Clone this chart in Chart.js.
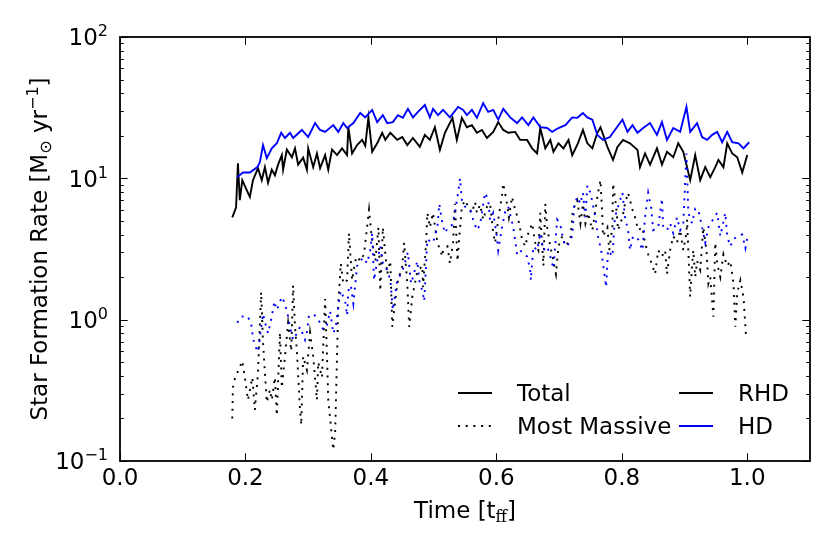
<!DOCTYPE html>
<html>
<head>
<meta charset="utf-8">
<script src="https://cdn.jsdelivr.net/npm/chart.js@4.4.1/dist/chart.umd.min.js"></script>
<style>
  html, body { margin: 0; padding: 0; background: #fff; }
  #wrap { width: 830px; height: 554px; }
</style>
</head>
<body>
<div id="wrap"><canvas id="sfrChart" width="830" height="554"></canvas></div>
<script>
// ===== Data =====
const xTicks = [0.0, 0.2, 0.4, 0.6, 0.8, 1.0];
const xTickLabels = ['0.0', '0.2', '0.4', '0.6', '0.8', '1.0'];
const yTicks = [0.1, 1, 10, 100];
const yTickExps = ['\u22121', '0', '1', '2'];

// RHD, total star formation rate
const rhdTotalT = [0.179,0.185,0.188,0.191,0.195,0.204,0.207,0.212,0.220,0.226,
  0.231,0.236,0.242,0.247,0.252,0.258,0.260,0.266,0.274,0.279,
  0.284,0.292,0.298,0.300,0.308,0.314,0.319,0.327,0.332,0.338,
  0.346,0.354,0.362,0.364,0.370,0.378,0.386,0.391,0.396,0.402,
  0.410,0.418,0.423,0.431,0.442,0.450,0.458,0.467,0.478,0.486,
  0.494,0.502,0.510,0.518,0.530,0.537,0.545,0.553,0.561,0.569,
  0.577,0.585,0.595,0.603,0.611,0.619,0.630,0.638,0.649,0.657,
  0.665,0.670,0.678,0.686,0.691,0.699,0.707,0.715,0.721,0.730,
  0.738,0.745,0.753,0.761,0.766,0.777,0.786,0.793,0.802,0.813,
  0.825,0.829,0.837,0.845,0.856,0.864,0.872,0.882,0.890,0.898,
  0.909,0.917,0.925,0.933,0.941,0.949,0.954,0.962,0.968,0.976,
  0.984,0.992,1.000];
const rhdTotal = [5.3,6.2,12.8,7.0,9.7,7.9,7.4,9.7,11.8,9.7,
  12,9.3,11.5,10.5,12.5,14.6,11.5,16,14.1,16.3,
  12.5,14,11.5,16.3,12,15,11.8,14.6,11.5,16,
  14.6,16.3,14.6,23,15,17.2,18.7,17,27,15.4,
  17.7,21,18.7,21,18.7,19.6,17.2,19.3,16.7,20.3,
  18.7,23,15.9,21,26.8,18.7,26.8,23,23.8,21,
  22,19.3,21.3,25,22,21,21.3,18.7,18.7,16.3,
  15,22.7,16.3,18.7,15.4,17.7,16.3,18.7,14.6,17.7,
  22,17.7,16.3,21,23,16.7,13.5,16.7,18.7,17.7,
  15.9,12,15,12.5,16.3,12.5,15.4,14.1,17.7,15.4,
  9.7,14.6,9.7,12,10.2,12,13.5,12,17.7,15,
  14.1,11,14.6];

// HD, total star formation rate
const hdTotalT = [0.187,0.196,0.207,0.219,0.223,0.228,0.234,0.242,0.250,0.257,
  0.263,0.271,0.276,0.290,0.300,0.311,0.319,0.327,0.340,0.348,
  0.356,0.362,0.372,0.383,0.391,0.402,0.410,0.419,0.426,0.435,
  0.443,0.451,0.459,0.467,0.475,0.486,0.494,0.499,0.507,0.515,
  0.526,0.539,0.547,0.553,0.561,0.569,0.579,0.587,0.595,0.603,
  0.611,0.622,0.633,0.641,0.651,0.659,0.670,0.681,0.689,0.699,
  0.710,0.721,0.729,0.738,0.745,0.753,0.761,0.770,0.781,0.789,
  0.801,0.809,0.817,0.825,0.834,0.845,0.856,0.864,0.872,0.882,
  0.893,0.903,0.909,0.920,0.928,0.936,0.944,0.952,0.960,0.968,
  0.976,0.986,0.994,1.003];
const hdTotal = [10.2,11,11,12,13,17.2,13.9,16.3,17.7,21,
  19.3,21,19.3,22,19.6,24.6,22,21.3,23.8,21.3,
  24.6,22.7,24.6,29,27,30.5,25,28,24.6,25,
  28,26.8,31,27,29.5,33,27,31,28,30.5,
  27,32,30.5,28,30.5,26.8,34,29.5,30.5,26,
  31,27,24.6,27,23.8,27,23,22.7,21.3,22.7,
  23.8,27,26.8,29,27,26,20.3,18.7,19.6,22,
  26,21.3,23.8,21,22.7,24.6,20.3,25,18.7,22.7,
  21.3,32,21.3,24.6,19.6,18.7,20.3,21.3,18,21.3,
  18,17.7,16.3,18];

// RHD, most massive cluster
const rhdMassT = [0.179,0.180,0.183,0.187,0.195,0.199,0.204,0.211,0.215,0.220,
  0.225,0.228,0.234,0.239,0.242,0.247,0.250,0.255,0.258,0.263,
  0.268,0.273,0.276,0.279,0.282,0.287,0.289,0.292,0.298,0.303,
  0.308,0.314,0.316,0.322,0.327,0.330,0.332,0.335,0.340,0.343,
  0.346,0.348,0.352,0.356,0.362,0.365,0.370,0.375,0.378,0.383,
  0.389,0.397,0.402,0.407,0.412,0.415,0.419,0.426,0.431,0.434,
  0.442,0.450,0.453,0.458,0.461,0.466,0.474,0.482,0.483,0.488,
  0.490,0.494,0.499,0.506,0.514,0.515,0.522,0.526,0.531,0.534,
  0.538,0.541,0.545,0.550,0.555,0.561,0.566,0.569,0.574,0.579,
  0.585,0.590,0.595,0.598,0.603,0.609,0.611,0.617,0.620,0.625,
  0.630,0.635,0.641,0.646,0.651,0.657,0.662,0.667,0.670,0.675,
  0.678,0.681,0.686,0.691,0.695,0.699,0.705,0.710,0.718,0.722,
  0.729,0.734,0.738,0.742,0.746,0.753,0.758,0.762,0.766,0.769,
  0.770,0.777,0.780,0.785,0.786,0.791,0.794,0.801,0.805,0.810,
  0.817,0.821,0.826,0.833,0.837,0.842,0.849,0.853,0.858,0.864,
  0.869,0.872,0.877,0.882,0.888,0.893,0.898,0.903,0.904,0.909,
  0.912,0.914,0.917,0.920,0.925,0.930,0.935,0.938,0.941,0.946,
  0.949,0.952,0.957,0.962,0.968,0.973,0.978,0.981,0.984,0.989,
  0.994,0.998];
const rhdMass = [0.20,0.33,0.38,0.42,0.51,0.39,0.27,0.39,0.23,0.42,
  1.57,0.69,0.26,0.32,0.27,0.39,0.21,0.81,0.33,0.55,
  0.95,0.60,1.75,0.89,0.60,0.23,0.18,0.55,0.44,0.81,
  0.55,0.27,0.50,0.39,1.40,0.55,0.27,0.20,0.12,0.16,
  0.55,1.30,2.5,1.8,1.9,4.1,1.9,2.6,2.8,2.6,
  2.9,6.0,3.55,2.6,4.5,1.6,4.5,2.1,2.6,0.89,
  1.8,2.4,3.5,1.8,0.89,1.45,2.2,2.4,1.7,3.5,
  5.7,4.5,5.7,3.5,2.8,3.1,3.3,2.5,3.5,6.6,
  2.6,3.9,6.3,7.0,6.3,5.7,6.8,5.7,6.5,5.1,
  6.3,6.6,4.1,3.5,5.1,7.6,9.2,6.6,5.3,7.4,
  6.0,5.1,3.7,3.3,4.1,4.8,3.5,3.1,5.7,2.4,
  6.6,4.5,3.3,2.6,2.1,3.3,3.9,3.3,3.7,6.0,
  7.0,4.8,6.6,4.8,5.7,4.3,6.0,7.9,9.7,5.3,
  3.9,4.5,3.1,4.5,9.2,6.3,4.3,5.3,6.6,7.9,
  6.0,5.3,4.3,4.5,3.5,2.9,2.4,2.1,3.1,2.8,
  3.1,2.1,3.1,3.9,3.5,4.3,3.1,4.1,5.1,1.45,
  2.4,3.1,2.0,2.6,2.25,4.5,3.1,1.8,2.0,1.05,
  3.5,2.5,2.0,2.9,2.4,2.6,1.8,0.89,1.55,1.9,
  1.45,0.76];

// HD, most massive cluster
const hdMassT = [0.187,0.193,0.203,0.209,0.212,0.215,0.220,0.226,0.228,0.233,
  0.236,0.242,0.246,0.250,0.258,0.263,0.268,0.271,0.276,0.282,
  0.287,0.295,0.298,0.301,0.308,0.314,0.319,0.324,0.330,0.335,
  0.340,0.344,0.348,0.352,0.356,0.359,0.362,0.364,0.368,0.372,
  0.378,0.383,0.388,0.394,0.399,0.402,0.405,0.410,0.415,0.419,
  0.426,0.431,0.435,0.442,0.450,0.455,0.459,0.464,0.467,0.474,
  0.477,0.482,0.485,0.490,0.494,0.499,0.506,0.509,0.514,0.518,
  0.523,0.530,0.534,0.539,0.542,0.545,0.550,0.558,0.563,0.569,
  0.574,0.582,0.587,0.590,0.595,0.600,0.603,0.609,0.614,0.619,
  0.624,0.627,0.633,0.638,0.643,0.649,0.654,0.655,0.659,0.665,
  0.670,0.675,0.681,0.686,0.691,0.697,0.702,0.707,0.713,0.721,
  0.724,0.729,0.734,0.738,0.742,0.745,0.750,0.758,0.762,0.767,
  0.770,0.775,0.778,0.785,0.789,0.794,0.801,0.805,0.810,0.813,
  0.818,0.826,0.833,0.837,0.842,0.847,0.850,0.858,0.864,0.866,
  0.872,0.877,0.882,0.888,0.893,0.898,0.903,0.906,0.912,0.917,
  0.922,0.928,0.933,0.938,0.944,0.952,0.957,0.965,0.968,0.973,
  0.978,0.984,0.992,0.997,1.000];
const hdMass = [0.95,1.05,1.06,0.95,0.74,0.66,0.59,0.95,1.1,0.89,
  0.80,1.05,1.35,1.17,1.45,1.3,1.05,0.89,0.72,0.80,
  0.89,0.72,0.82,1.05,1.1,1.03,0.95,0.85,0.92,1.15,
  0.80,0.89,1.25,1.6,1.45,1.35,1.07,1.6,1.75,1.3,
  2.4,2.6,2.75,2.5,3.1,4.1,1.9,2.6,3.3,2.5,
  2.25,1.9,1.17,1.9,2.2,2.6,3.0,1.8,2.0,2.6,
  1.9,1.6,1.35,3.7,3.6,3.5,4.5,6.6,4.8,4.1,
  4.5,4.7,5.7,7.9,10,7.0,6.3,6.0,5.1,4.3,
  4.7,7.9,7.0,5.1,5.7,4.1,3.1,4.5,5.8,6.3,
  5.1,4.5,2.9,3.1,2.9,2.8,2.25,1.9,3.3,3.1,
  4.1,3.1,3.3,2.8,2.3,5.1,4.7,3.6,3.3,3.9,
  6.3,7.4,6.6,7.9,5.3,8.9,7.9,5.3,3.9,3.1,
  2.5,1.7,3.1,2.8,5.3,6.3,7.9,5.3,4.3,3.1,
  3.9,3.7,3.1,5.3,7.9,6.1,4.3,4.5,7.2,4.5,
  4.3,4.8,4.1,5.3,4.3,4.8,15,5.7,4.8,6.1,
  6.0,4.5,3.5,4.5,5.0,5.7,3.9,5.7,3.9,3.3,
  3.7,3.9,4.0,3.2,3.8];

const legendRows = [
  { label: 'Total', dash: [] },
  { label: 'Most Massive', dash: [2, 5.7] }
];
const legendRuns = [
  { label: 'RHD', color: '#000000' },
  { label: 'HD', color: '#0000ff' }
];

// ===== Helpers =====
const FONT = "'DejaVu Sans', 'Bitstream Vera Sans', sans-serif";
const SERIF = "'DejaVu Serif', serif";
const FS = 23;
const DOTS = [2, 5.7];

const pts = (ts, vs) => ts.map((t, i) => ({ x: t, y: vs[i] }));

// parts: [text, size, dy, family]
function drawParts(ctx, parts, x, y, align) {
  let w = 0;
  parts.forEach(p => {
    ctx.font = p[1] + 'px ' + (p[3] || FONT);
    p.w = ctx.measureText(p[0]).width;
    w += p.w;
  });
  let cx = align === 'right' ? x - w : align === 'center' ? x - w / 2 : x;
  ctx.textAlign = 'left';
  ctx.textBaseline = 'alphabetic';
  parts.forEach(p => {
    ctx.font = p[1] + 'px ' + (p[3] || FONT);
    ctx.fillText(p[0], cx, y + p[2]);
    cx += p.w;
  });
}

const decorations = {
  id: 'decorations',
  afterDraw(chart) {
    const { ctx, chartArea: a, scales } = chart;
    const xs = scales.x, ys = scales.y;
    ctx.save();
    ctx.fillStyle = '#000';
    ctx.strokeStyle = '#000';

    // inward ticks on all four sides
    ctx.lineWidth = 1;
    ctx.beginPath();
    xTicks.forEach(v => {
      const px = Math.round(xs.getPixelForValue(v)) + 0.5;
      ctx.moveTo(px, a.bottom); ctx.lineTo(px, a.bottom - 7.7);
      ctx.moveTo(px, a.top); ctx.lineTo(px, a.top + 7.7);
    });
    yTicks.forEach((v, i) => {
      const py = Math.round(ys.getPixelForValue(v)) + 0.5;
      ctx.moveTo(a.left, py); ctx.lineTo(a.left + 7.7, py);
      ctx.moveTo(a.right, py); ctx.lineTo(a.right - 7.7, py);
      if (i < yTicks.length - 1) {
        for (let m = 2; m <= 9; m++) {
          const pm = Math.round(ys.getPixelForValue(v * m)) + 0.5;
          ctx.moveTo(a.left, pm); ctx.lineTo(a.left + 3.8, pm);
          ctx.moveTo(a.right, pm); ctx.lineTo(a.right - 3.8, pm);
        }
      }
    });
    ctx.stroke();

    // frame
    ctx.lineWidth = 1.8;
    ctx.strokeRect(a.left, a.top, a.right - a.left, a.bottom - a.top);

    // y tick labels (10^n)
    yTicks.forEach((v, i) => {
      const py = ys.getPixelForValue(v);
      drawParts(ctx, [['10', FS, 0], [yTickExps[i], 16, -9]], a.left - 12, py + 8.4, 'right');
    });

    // axis titles
    drawParts(ctx, [['Time [t', FS, 0], ['ff', 16, 4, SERIF], [']', FS, 0]],
      (a.left + a.right) / 2, 518, 'center');
    ctx.save();
    ctx.translate(47, (a.top + a.bottom) / 2);
    ctx.rotate(-Math.PI / 2);
    drawParts(ctx, [['Star Formation Rate [M', FS, 0], ['\u2299', 16, 4], [' yr', FS, 0],
      ['\u22121', 16, -9], [']', FS, 0]], 0, 0, 'center');
    ctx.restore();

    // legend (two columns, no frame)
    const rowY = [393, 426];
    ctx.lineWidth = 1.9;
    legendRows.forEach((r, i) => {
      ctx.strokeStyle = '#000';
      ctx.setLineDash(r.dash);
      ctx.beginPath(); ctx.moveTo(458, rowY[i]); ctx.lineTo(492, rowY[i]); ctx.stroke();
      ctx.setLineDash([]);
      drawParts(ctx, [[r.label, FS, 0]], 517, rowY[i] + 8.4, 'left');
    });
    legendRuns.forEach((r, i) => {
      ctx.strokeStyle = r.color;
      ctx.beginPath(); ctx.moveTo(679, rowY[i]); ctx.lineTo(713, rowY[i]); ctx.stroke();
      drawParts(ctx, [[r.label, FS, 0]], 738, rowY[i] + 8.4, 'left');
    });
    ctx.restore();
  }
};

// ===== Chart =====
const line = (data, color, dash) => ({
  data, borderColor: color, backgroundColor: color, borderWidth: 1.9,
  borderDash: dash, pointRadius: 0, tension: 0, fill: false, borderCapStyle: 'butt'
});

new Chart(document.getElementById('sfrChart').getContext('2d'), {
  type: 'line',
  data: {
    datasets: [
      line(pts(hdTotalT, hdTotal), '#0000ff', []),
      line(pts(hdMassT, hdMass), '#0000ff', DOTS),
      line(pts(rhdTotalT, rhdTotal), '#000000', []),
      line(pts(rhdMassT, rhdMass), '#000000', DOTS)
    ]
  },
  options: {
    responsive: false,
    animation: false,
    layout: { padding: { top: 37, right: 20, left: 0, bottom: 0 } },
    plugins: { legend: { display: false }, tooltip: { enabled: false } },
    scales: {
      x: {
        type: 'linear', min: 0, max: 1.1,
        grid: { display: false, drawTicks: false }, border: { display: false },
        afterBuildTicks: s => { s.ticks = xTicks.map(v => ({ value: v })); },
        afterFit: s => { s.height = 93; },
        ticks: {
          color: '#000', padding: 4, maxRotation: 0, autoSkip: false,
          font: { family: FONT, size: FS },
          callback: (v, i) => xTickLabels[i]
        }
      },
      y: {
        type: 'logarithmic', min: 0.1, max: 100,
        grid: { display: false, drawTicks: false }, border: { display: false },
        afterBuildTicks: s => { s.ticks = yTicks.map(v => ({ value: v })); },
        afterFit: s => { s.width = 120; },
        ticks: { display: false }
      }
    }
  },
  plugins: [decorations]
});
</script>
</body>
</html>
